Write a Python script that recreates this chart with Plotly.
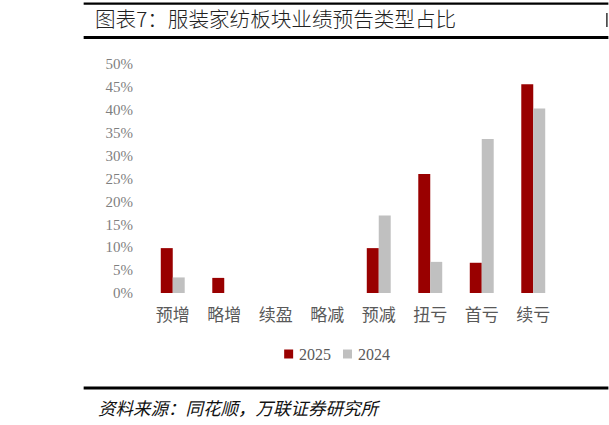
import plotly.graph_objects as go

# ── 数据 ──────────────────────────────────────────────
categories = ["预增", "略增", "续盈", "略减", "预减", "扭亏", "首亏", "续亏"]
share_2025 = [9.8, 3.3, 0.0, 0.0, 9.8, 26.0, 6.6, 45.6]
share_2024 = [3.4, 0.0, 0.0, 0.0, 16.9, 6.8, 33.6, 40.3]
y_ticks = [0, 5, 10, 15, 20, 25, 30, 35, 40, 45, 50]
y_tick_text = [f"{v}%" for v in y_ticks]
series_names = ["2025", "2024"]
series_colors = ["#990000", "#C0C0C0"]

W, H = 609, 425
L, R, T, B = 146.5, 559.5, 64, 293   # 绘图区像素边界


def px_x(p):
    return (p - L) / (R - L)


def px_y(p):
    return (B - p) / (B - T)


CJK = "Noto Sans CJK SC"
SERIF = "Liberation Serif, Noto Sans CJK SC"

fig = go.Figure()
for name, vals, color in zip(series_names, [share_2025, share_2024], series_colors):
    fig.add_trace(go.Bar(x=categories, y=vals, name=name,
                         marker=dict(color=color, line=dict(width=0))))

fig.update_layout(
    width=W, height=H,
    margin=dict(l=L, r=W - R, t=T, b=H - B, pad=0),
    paper_bgcolor="white", plot_bgcolor="white",
    barmode="group", bargap=0.535, bargroupgap=0,
    title=dict(text="图表7：服装家纺板块业绩预告类型占比",
               font=dict(family=CJK, size=20.6, color="#222222", weight=300),
               x=95 / W, xanchor="left", xref="container",
               y=1 - 20 / H, yanchor="middle", yref="container"),
    showlegend=False,
)

fig.update_yaxes(range=[0, 50], tickvals=y_ticks, ticktext=y_tick_text,
                 showgrid=False, zeroline=False, showline=False,
                 ticklabelstandoff=13,
                 tickfont=dict(family=SERIF, size=15, color="#7F7F7F"))
fig.update_xaxes(showgrid=False, showline=False, ticks="",
                 ticklabelstandoff=10,
                 tickfont=dict(family=CJK, size=17, color="#595959"))

# 图例（手绘，贴近原图的紧凑间距）
for (sx, tx), name, color in zip([(284, 297), (343, 356)], series_names, series_colors):
    fig.add_shape(type="rect", xref="paper", yref="paper",
                  x0=px_x(sx), x1=px_x(sx + 9), y0=px_y(358.5), y1=px_y(349.5),
                  fillcolor=color, line=dict(width=0))
    fig.add_annotation(text=name, xref="paper", yref="paper",
                       x=px_x(tx), y=px_y(354), xanchor="left", yanchor="middle",
                       showarrow=False,
                       font=dict(family=SERIF, size=16, color="#595959"))

# 标题与来源的粗横线
for y0, w in [(3.7, 2.2), (37.5, 3), (388, 3)]:
    fig.add_shape(type="line", xref="paper", yref="paper",
                  x0=px_x(83), x1=px_x(609), y0=px_y(y0), y1=px_y(y0),
                  line=dict(color="black", width=w))
# 右侧被裁切的下一图标题残影
fig.add_shape(type="line", xref="paper", yref="paper",
              x0=px_x(607.5), x1=px_x(607.5), y0=px_y(13), y1=px_y(27),
              line=dict(color="#333333", width=1.5))

fig.add_annotation(text="资料来源：同花顺，万联证券研究所",
                   xref="paper", yref="paper", x=px_x(95), y=px_y(407),
                   xanchor="left", yanchor="middle", showarrow=False,
                   font=dict(family=CJK, size=17.5, color="#111111", style="italic"))

fig.write_html("out.html", config={"displayModeBar": False},
               post_script="document.body.style.margin='0';")
